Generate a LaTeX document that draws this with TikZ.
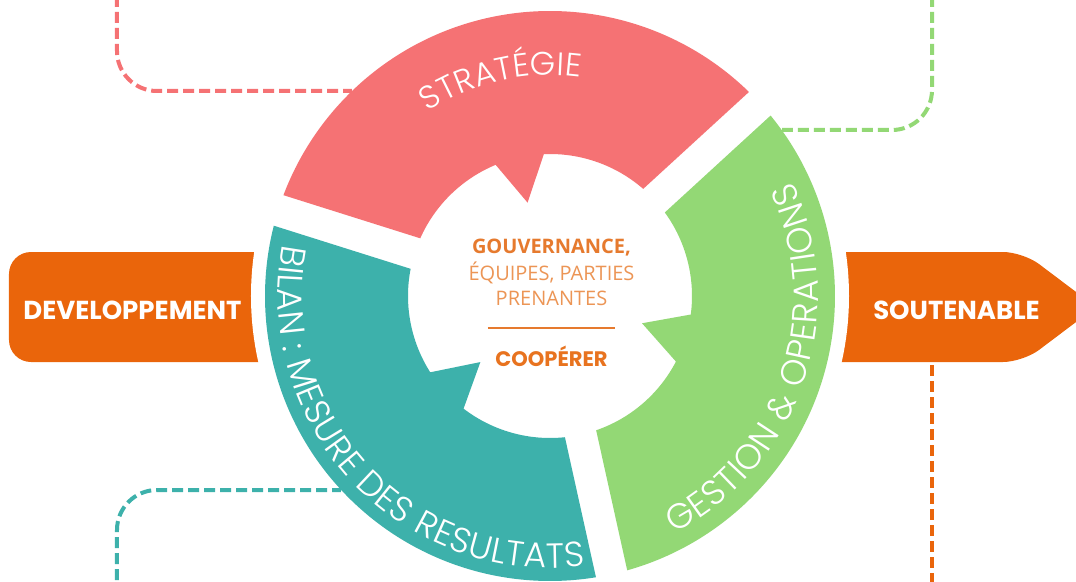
\documentclass[tikz,border=0pt]{standalone}
\usepackage{fontspec}
\setmainfont{Open Sans}
\newfontfamily\geofont{Poppins}
\newfontfamily\ringfont{Poppins Light}
\usetikzlibrary{decorations.text}

\definecolor{stratred}{HTML}{F57274}
\definecolor{bilanteal}{HTML}{3DB1AB}
\definecolor{gestgreen}{HTML}{93D875}
\definecolor{boxorange}{HTML}{EA650B}
\definecolor{govorange}{HTML}{E67A2E}
\definecolor{paleorange}{HTML}{EC9555}
\definecolor{cooporange}{HTML}{E8731F}

\begin{document}
\begin{tikzpicture}[
    x=1pt, y=1pt,
    dashline/.style={line width=4pt, dash pattern=on 11pt off 5pt, rounded corners=40pt},
    boxtext/.style={text=white, font=\geofont\bfseries\fontsize{26}{26}\selectfont, inner sep=0pt, anchor=base},
    govtext/.style={text=govorange, font=\bfseries\fontsize{20}{20}\selectfont, inner sep=0pt, anchor=base},
    teamtext/.style={text=paleorange, font=\fontsize{20}{20}\selectfont, inner sep=0pt, anchor=base},
    cooptext/.style={text=cooporange, font=\geofont\bfseries\fontsize{21}{21}\selectfont, inner sep=0pt, anchor=base},
    ringtext/.style 2 args={decoration={text along path, text align=fit to path, text color=white,
        text={|\ringfont\fontsize{#1}{#1}\selectfont|#2}}, decorate},
]
    \useasboundingbox (-550,-285) rectangle (526,296);

    % orange side boxes
    \fill[boxorange, rounded corners=22pt] (-541,-66) rectangle (-240,44);
    \fill[boxorange, rounded corners=20pt] (250,44) -- (473,44) -- (546,-11) -- (473,-66) -- (250,-66) -- cycle;
    \fill[white] (0,0) circle[radius=299pt];

    \node[boxtext] (dev)  at (-417.5,-23) {DEVELOPPEMENT};
    \node[boxtext] (sout) at (406.5,-23)  {SOUTENABLE};

    % dashed leads
    \coordinate (strat top) at (-433,300);
    \coordinate (strat end) at (-198,205);
    \coordinate (bilan bot) at (-433,-300);
    \coordinate (bilan end) at (-209,-194);
    \coordinate (gest top)  at (382,300);
    \coordinate (gest end)  at (232,166);
    \coordinate (sout foot) at (382,-300);
    \coordinate (sout base) at (382,-69);

    \draw[dashline, stratred]   (strat top) |- (strat end);
    \draw[dashline, bilanteal]  (bilan bot) |- (bilan end);
    \draw[dashline, gestgreen]  (gest top)  |- (gest end);
    \draw[dashline, boxorange]  (sout base) -- (sout foot);

    % ring segments with inner teeth
    \foreach \g/\col in {42.5/stratred, 162.5/bilanteal, 282.5/gestgreen}
        \fill[\col] ({\g+6.47}:142) -- ({\g+3.22}:285)
            arc[start angle=\g+3.22, end angle=\g+116.78, radius=285pt]
            -- ({\g+113.53}:142)
            arc[start angle=\g+113.53, end angle=\g+70, radius=142pt]
            -- ({\g+61}:96) -- ({\g+50}:142)
            arc[start angle=\g+50, end angle=\g+6.47, radius=142pt] -- cycle;

    % ring labels
    \path[ringtext={32.5}{STRATÉGIE}] (123.5:221) arc[start angle=123.5, end angle=82.1, radius=221pt];
    \path[ringtext={35}{BILAN : MESURE DES RESULTATS}] (169:272) arc[start angle=169, end angle=277.4, radius=272pt];
    \path[ringtext={35}{GESTION {\&} OPERATIONS}] (297.6:268) arc[start angle=297.6, end angle=385.3, radius=268pt];

    % centre
    \node[govtext]  (gouv)  at (1.5,43) {GOUVERNANCE,};
    \node[teamtext] (equip) at (1.5,16) {ÉQUIPES, PARTIES};
    \node[teamtext] (pren)  at (1.5,-9) {PRENANTES};
    \coordinate (bar l) at (-62,-32);
    \coordinate (bar r) at (65,-32);
    \draw[govorange, line width=2pt] (bar l) -- (bar r);
    \node[cooptext] (coop)  at (1.5,-70) {COOPÉRER};
\end{tikzpicture}
\end{document}
